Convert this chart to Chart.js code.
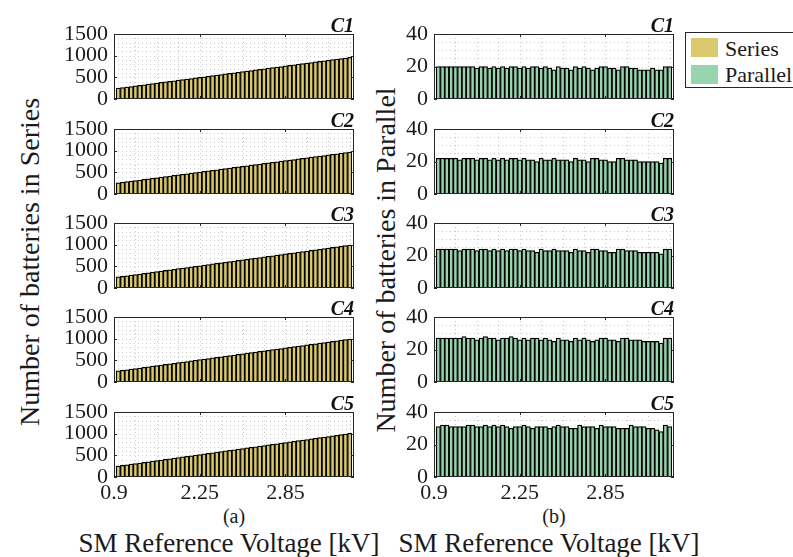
<!DOCTYPE html>
<html>
<head>
<meta charset="utf-8">
<title>Batteries in series / parallel</title>
<script src="https://cdn.jsdelivr.net/npm/chart.js@4.4.1/dist/chart.umd.min.js"></script>
<style>
  html, body { margin: 0; padding: 0; background: #fff; }
  body {
    width: 793px; height: 557px; position: relative; overflow: hidden;
    font-family: 'Liberation Serif', 'Times New Roman', serif; color: #1a1a1a;
  }
  canvas { position: absolute; }
  .txt { position: absolute; white-space: nowrap; line-height: 1; }
  .ytitle { font-size: 28px; transform: translate(-50%, -50%) rotate(-90deg); }
  .xtitle { font-size: 27px; transform: translateX(-50%); }
  .sub { font-size: 20px; transform: translate(-50%, -50%); }
  #legend {
    position: absolute; left: 685px; top: 32px; width: 130px; height: 56px;
    border: 1px solid #262626; background: #fff; box-sizing: border-box;
  }
  .sw { position: absolute; left: 5px; width: 27px; height: 19px; }
  .lt { position: absolute; left: 39px; font-size: 22px; line-height: 1; }
</style>
</head>
<body>

<div class="txt ytitle" style="left:30px; top:262px;">Number of batteries in Series</div>
<div class="txt ytitle" style="left:386px; top:260px;">Number of batteries in Parallel</div>
<div class="txt sub" style="left:234px; top:516px;">(a)</div>
<div class="txt sub" style="left:554px; top:516px;">(b)</div>
<div class="txt xtitle" style="left:229px; top:530px;">SM Reference Voltage [kV]</div>
<div class="txt xtitle" style="left:549px; top:530px;">SM Reference Voltage [kV]</div>

<div id="legend">
  <div class="sw" style="top:5px; background:#dac96c;"></div>
  <div class="lt" style="top:5px;">Series</div>
  <div class="sw" style="top:32px; background:#98d4ae;"></div>
  <div class="lt" style="top:31px;">Parallel</div>
</div>

<script>
// --- x axis: bars sit at 1..55, ticks at 0/20/40 carry the voltage labels ---
const xTickPos = [0, 20, 40];
const xTickLabels = ['0.9', '2.25', '2.85'];

const caseNames = ['C1', 'C2', 'C3', 'C4', 'C5'];

const seriesTicks = [0, 500, 1000, 1500];
const parallelTicks = [0, 20, 40];

// --- number of batteries in series, per case ---
const seriesC1 = [250, 263, 276, 289, 303, 316, 329, 342, 355, 368,
                  382, 395, 408, 421, 434, 447, 461, 474, 487, 500,
                  513, 526, 539, 553, 566, 579, 592, 605, 618, 632,
                  645, 658, 671, 684, 697, 711, 724, 737, 750, 763,
                  776, 789, 803, 816, 829, 842, 855, 868, 882, 895,
                  908, 921, 934, 947, 960];
const seriesC2 = [258, 271, 284, 297, 310, 324, 337, 350, 363, 376,
                  389, 403, 416, 429, 442, 455, 468, 481, 495, 508,
                  521, 534, 547, 560, 574, 587, 600, 613, 626, 639,
                  652, 666, 679, 692, 705, 718, 731, 745, 758, 771,
                  784, 797, 810, 823, 837, 850, 863, 876, 889, 902,
                  916, 929, 942, 955, 968];
const seriesC3 = [255, 269, 282, 296, 309, 323, 337, 350, 364, 378,
                  391, 405, 418, 432, 446, 459, 473, 486, 500, 514,
                  527, 541, 555, 568, 582, 595, 609, 623, 636, 650,
                  663, 677, 691, 704, 718, 732, 745, 759, 772, 786,
                  800, 813, 827, 840, 854, 868, 881, 895, 909, 922,
                  936, 949, 963, 977, 990];
const seriesC4 = [256, 270, 283, 297, 311, 324, 338, 351, 365, 379,
                  392, 406, 420, 433, 447, 460, 474, 488, 501, 515,
                  529, 542, 556, 569, 583, 597, 610, 624, 638, 651,
                  665, 678, 692, 706, 719, 733, 747, 760, 774, 787,
                  801, 815, 828, 842, 856, 869, 883, 896, 910, 924,
                  937, 951, 965, 978, 992];
const seriesC5 = [254, 268, 282, 296, 310, 324, 337, 351, 365, 379,
                  393, 407, 421, 435, 449, 463, 477, 490, 504, 518,
                  532, 546, 560, 574, 588, 602, 616, 629, 643, 657,
                  671, 685, 699, 713, 727, 741, 755, 768, 782, 796,
                  810, 824, 838, 852, 866, 880, 894, 907, 921, 935,
                  949, 963, 977, 991, 1005];

// --- number of batteries in parallel, per case ---
const parallelC1 = [20, 20, 20, 20, 20, 20, 20, 20, 20, 19,
                    20, 20, 19, 20, 19, 20, 19, 20, 20, 19,
                    20, 19, 20, 20, 19, 20, 19, 18, 20, 19,
                    19, 18, 20, 19, 20, 19, 18, 19, 20, 20,
                    19, 19, 18, 20, 20, 19, 19, 18, 18, 18,
                    19, 18, 18, 20, 20];
const parallelC2 = [22, 22, 22, 22, 22, 21, 22, 22, 22, 21,
                    22, 22, 21, 22, 21, 22, 21, 22, 22, 21,
                    22, 21, 21, 20, 22, 21, 21, 22, 21, 21,
                    21, 20, 22, 21, 21, 20, 22, 22, 21, 21,
                    20, 20, 22, 22, 21, 21, 21, 20, 20, 20,
                    20, 20, 19, 22, 22];
const parallelC3 = [24, 24, 24, 24, 24, 23, 24, 24, 24, 23,
                    24, 24, 23, 24, 23, 24, 23, 24, 24, 23,
                    24, 23, 23, 22, 24, 23, 23, 24, 23, 23,
                    23, 22, 24, 23, 23, 22, 24, 24, 23, 23,
                    22, 22, 24, 24, 23, 23, 23, 22, 22, 22,
                    22, 22, 21, 24, 24];
const parallelC4 = [27, 27, 27, 27, 27, 27, 28, 27, 27, 26,
                    27, 28, 27, 27, 26, 27, 27, 28, 27, 26,
                    27, 26, 27, 27, 26, 27, 26, 25, 27, 26,
                    26, 25, 27, 26, 27, 26, 25, 26, 27, 27,
                    26, 26, 25, 27, 27, 26, 26, 26, 25, 25,
                    25, 25, 24, 27, 27];
const parallelC5 = [31, 32, 32, 31, 31, 31, 31, 32, 32, 31,
                    31, 32, 31, 32, 31, 32, 31, 30, 31, 31,
                    32, 31, 30, 31, 31, 31, 30, 31, 32, 31,
                    31, 30, 30, 32, 31, 31, 31, 30, 32, 31,
                    31, 31, 30, 30, 30, 32, 31, 31, 31, 30,
                    30, 29, 28, 32, 31];

const seriesData = [seriesC1, seriesC2, seriesC3, seriesC4, seriesC5];
const parallelData = [parallelC1, parallelC2, parallelC3, parallelC4, parallelC5];

const SERIES_COLOR = '#dac96c';
const PARALLEL_COLOR = '#98d4ae';
const AXIS_COLOR = '#262626';
const FONT = "'Liberation Serif', 'Times New Roman', serif";

// panel geometry in page pixels
const PLOT_W = 240;
const PLOT_H = 65;
const AXIS_W = 60;
const TOP_PAD = 22;
const colLeft = [114, 434];
const rowTop = [34, 129, 223, 317, 412];


// draws the dotted minor grid, the box, inward ticks and the case name
const matlabAxes = {
  id: 'matlabAxes',
  beforeDatasetsDraw(chart, args, opts) {
    const { ctx, chartArea: a, scales: { x, y } } = chart;
    ctx.save();
    ctx.lineWidth = 1;
    ctx.strokeStyle = 'rgba(0, 0, 0, 0.2)';
    ctx.setLineDash([1, 3]);
    for (let v = opts.xMinor; v < x.max; v += opts.xMinor) {
      const px = Math.round(x.getPixelForValue(v)) + 0.5;
      ctx.beginPath(); ctx.moveTo(px, a.top); ctx.lineTo(px, a.bottom); ctx.stroke();
    }
    for (let v = opts.yMinor; v < y.max; v += opts.yMinor) {
      const py = Math.round(y.getPixelForValue(v)) + 0.5;
      ctx.beginPath(); ctx.moveTo(a.left, py); ctx.lineTo(a.right, py); ctx.stroke();
    }
    ctx.restore();
  },
  afterDatasetsDraw(chart, args, opts) {
    const { ctx, chartArea: a, scales: { x, y } } = chart;
    ctx.save();
    ctx.strokeStyle = AXIS_COLOR;
    ctx.lineWidth = 1;
    ctx.strokeRect(a.left + 0.5, a.top + 0.5, a.right - a.left - 1, a.bottom - a.top - 1);

    // inward tick marks
    ctx.beginPath();
    xTickPos.forEach(v => {
      const px = Math.round(x.getPixelForValue(v)) + 0.5;
      ctx.moveTo(px, a.bottom); ctx.lineTo(px, a.bottom - 3);
      ctx.moveTo(px, a.top); ctx.lineTo(px, a.top + 3);
    });
    opts.yTicks.forEach(v => {
      const py = Math.round(y.getPixelForValue(v)) + 0.5;
      ctx.moveTo(a.left, py); ctx.lineTo(a.left + 3, py);
      ctx.moveTo(a.right, py); ctx.lineTo(a.right - 3, py);
    });
    ctx.stroke();

    ctx.fillStyle = '#111';
    ctx.font = `italic bold 20px ${FONT}`;
    ctx.textAlign = 'right';
    ctx.textBaseline = 'alphabetic';
    ctx.fillText(opts.name, a.right, a.top - 2);
    ctx.restore();
  }
};


const makePanel = (col, row, values, color, yMax, yTicks, yMinor) => {
  const last = row === rowTop.length - 1;
  const bottomPad = last ? 4 : 16;
  const xAxisH = last ? 32 : 0;

  const canvas = document.createElement('canvas');
  canvas.width = AXIS_W + PLOT_W + 6;
  canvas.height = TOP_PAD + PLOT_H + xAxisH + bottomPad;
  canvas.style.left = (colLeft[col] - AXIS_W) + 'px';
  canvas.style.top = (rowTop[row] - TOP_PAD) + 'px';
  document.body.appendChild(canvas);

  new Chart(canvas, {
    type: 'bar',
    data: {
      datasets: [{
        data: values.map((v, i) => ({ x: i + 1, y: v })),
        backgroundColor: color,
        borderColor: '#000',
        borderWidth: { top: 1.25, left: 1.25, right: 1.25, bottom: 0 },
        borderSkipped: false,
        barPercentage: 1,
        categoryPercentage: 1
      }]
    },
    options: {
      responsive: false,
      animation: false,
      devicePixelRatio: 1,
      events: [],
      layout: { padding: { top: TOP_PAD, right: 6, bottom: bottomPad, left: 0 } },
      plugins: {
        legend: { display: false },
        tooltip: { enabled: false },
        matlabAxes: { name: caseNames[row], yTicks: yTicks, xMinor: 5, yMinor: yMinor }
      },
      scales: {
        x: {
          type: 'linear',
          min: 0,
          max: 56,
          offset: false,
          afterBuildTicks: s => { s.ticks = xTickPos.map(v => ({ value: v })); },
          afterFit: s => { s.height = xAxisH; s.paddingLeft = 0; s.paddingRight = 0; },
          grid: { display: false, drawTicks: false, offset: false },
          border: { display: false },
          ticks: {
            display: last,
            padding: 3,
            autoSkip: false,
            maxRotation: 0,
            color: '#1a1a1a',
            font: { family: FONT, size: 22 },
            callback: v => {
              const k = xTickPos.indexOf(v);
              return k >= 0 ? xTickLabels[k] : '';
            }
          }
        },
        y: {
          min: 0,
          max: yMax,
          afterBuildTicks: s => { s.ticks = yTicks.map(v => ({ value: v })); },
          afterFit: s => { s.width = AXIS_W; s.paddingTop = 0; s.paddingBottom = 0; },
          grid: { display: false, drawTicks: false },
          border: { display: false },
          ticks: {
            padding: 6,
            autoSkip: false,
            color: '#1a1a1a',
            font: { family: FONT, size: 22 },
            callback: v => String(v)
          }
        }
      }
    },
    plugins: [matlabAxes]
  });
};


document.addEventListener('DOMContentLoaded', () => {
  rowTop.forEach((_, row) => {
    makePanel(0, row, seriesData[row], SERIES_COLOR, 1500, seriesTicks, 100);
    makePanel(1, row, parallelData[row], PARALLEL_COLOR, 40, parallelTicks, 5);
  });
});
</script>
</body>
</html>
